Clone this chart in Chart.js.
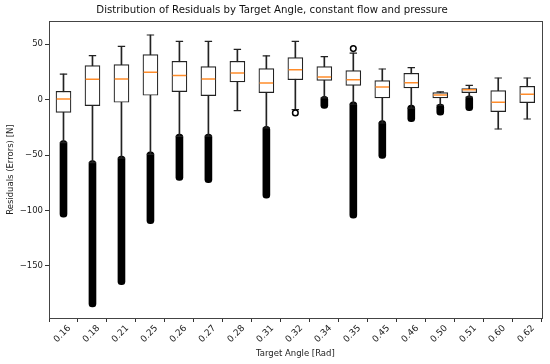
<!DOCTYPE html>
<html>
<head>
<meta charset="utf-8">
<script src="https://cdn.jsdelivr.net/npm/chart.js@4"></script>
<style>
  html, body { margin: 0; padding: 0; background: #fff; }
  #wrap { width: 550px; height: 364px; }
</style>
</head>
<body>
<div id="wrap"><canvas id="boxChart" width="550" height="364"></canvas></div>
<script>
// target angles (categories)
const angles = ["0.16", "0.18", "0.21", "0.25", "0.26", "0.27", "0.28", "0.31", "0.32",
                "0.34", "0.35", "0.45", "0.46", "0.50", "0.51", "0.60", "0.62"];

// box statistics
const whiskerHigh = [23, 39.7, 48, 58.3, 52.6, 52.6, 45.4, 39.4, 52.6, 38.8, 42, 27.6, 28.9, 6.9, 12.9, 19.5, 19.5];
const q3          = [7.5, 30.7, 31.6, 40.6, 34.6, 29.8, 34.6, 28, 37.9, 29.8, 26.2, 17.1, 23.7, 6.3, 9.9, 8.1, 12];
const medians     = [0.5, 18.3, 18.6, 24.6, 21.7, 18.6, 24, 15, 27, 20.4, 18, 11.4, 15.3, 4.2, 9, -2.4, 4.8];
const q1          = [-11.5, -5.4, -2.4, 3.9, 7.2, 3.6, 15.9, 6.3, 18, 17.4, 12.9, 1.5, 10.5, 1.5, 6.3, -10.8, -2.7];
const whiskerLow  = [-38.8, -56.9, -52.7, -49.4, -33.1, -33, -10, -25.6, -9, 1.5, -4.2, -21.1, -7.6, -5.1, 2.3, -26.5, -17.5];

// dense outlier runs (top / bottom of the run), null = none
const outlierTop    = [-37, -55, -51, -47, -31, -31, null, -24, null, 3, -2, -19, -5, -4, 3.5, null, null];
const outlierBottom = [-106, -187, -167, -112, -73, -75, null, -89, null, -8, -107, -53, -20, -14, -10, null, null];
// single isolated outliers
const singleOutliers = [null, null, null, null, null, null, null, null, -12, null, 46, null, null, null, null, null, null];

const yTicks = [-150, -100, -50, 0, 50];

const range = (a, b) => a.map((v, i) => (v === null || b[i] === null) ? null : [b[i], v]);

const frame = {
  id: 'frame',
  afterDraw(chart) {
    const { ctx, chartArea: a } = chart;
    ctx.save();
    ctx.strokeStyle = '#444';
    ctx.lineWidth = 1;
    ctx.strokeRect(Math.round(a.left) + 0.5, Math.round(a.top) + 0.5,
                   Math.round(a.right - a.left), Math.round(a.bottom - a.top));
    ctx.restore();
  }
};

new Chart(document.getElementById('boxChart'), {
  type: 'bar',
  data: {
    labels: angles,
    datasets: [
      {
        label: 'outliers',
        data: range(outlierTop, outlierBottom),
        backgroundColor: '#000',
        barThickness: 7,
        borderRadius: 3.5,
        borderSkipped: false,
        grouped: false,
        order: 5
      },
      {
        label: 'whiskers',
        data: range(whiskerHigh, whiskerLow),
        backgroundColor: '#222',
        barThickness: 1,
        grouped: false,
        order: 4
      },
      {
        label: 'boxes',
        data: range(q3, q1),
        backgroundColor: '#fff',
        borderColor: '#222',
        borderWidth: 1.2,
        borderSkipped: false,
        barThickness: 15,
        grouped: false,
        order: 3
      },
      {
        type: 'line',
        label: 'caps high',
        data: whiskerHigh,
        showLine: false,
        pointStyle: 'line',
        pointRadius: 3.7,
        pointBorderWidth: 1.2,
        pointBorderColor: '#222',
        order: 2
      },
      {
        type: 'line',
        label: 'caps low',
        data: whiskerLow,
        showLine: false,
        pointStyle: 'line',
        pointRadius: 3.7,
        pointBorderWidth: 1.2,
        pointBorderColor: '#222',
        order: 2
      },
      {
        type: 'line',
        label: 'median',
        data: medians,
        showLine: false,
        pointStyle: 'line',
        pointRadius: 6.8,
        pointBorderWidth: 1.5,
        pointBorderColor: '#ff8c2a',
        order: 1
      },
      {
        type: 'line',
        label: 'single outliers',
        data: singleOutliers,
        showLine: false,
        pointStyle: 'circle',
        pointRadius: 2.8,
        pointBorderWidth: 1.5,
        pointBorderColor: '#000',
        pointBackgroundColor: '#fff',
        order: 0
      }
    ]
  },
  options: {
    responsive: false,
    animation: false,
    layout: { padding: { right: 6 } },
    plugins: {
      legend: { display: false },
      tooltip: { enabled: false },
      title: {
        display: true,
        text: 'Distribution of Residuals by Target Angle, constant flow and pressure',
        color: '#111',
        font: { family: 'DejaVu Sans', size: 10.2, weight: 'normal' },
        padding: { top: 4, bottom: 5 }
      }
    },
    scales: {
      x: {
        offset: true,
        grid: { display: true, drawOnChartArea: false, drawTicks: true, tickLength: 4, color: '#333' },
        border: { display: false },
        ticks: {
          color: '#222',
          minRotation: 45,
          maxRotation: 45,
          padding: 1,
          labelOffset: 6,
          font: { family: 'DejaVu Sans', size: 9 }
        },
        title: {
          display: true,
          text: 'Target Angle [Rad]',
          color: '#222',
          font: { family: 'DejaVu Sans', size: 8.5 },
          padding: { top: 0, bottom: 5 }
        },
        afterFit(scale) { scale.height = 46; }
      },
      y: {
        min: -197,
        max: 70.7,
        afterBuildTicks(scale) { scale.ticks = yTicks.map(v => ({ value: v })); },
        grid: { display: true, drawOnChartArea: false, drawTicks: true, tickLength: 4, color: '#333' },
        border: { display: false },
        ticks: {
          color: '#222',
          padding: 2,
          font: { family: 'DejaVu Sans', size: 8.5 },
          callback: v => String(v).replace('-', '\u2212')
        },
        title: {
          display: true,
          text: 'Residuals (Errors) [N]',
          color: '#222',
          font: { family: 'DejaVu Sans', size: 8.5 },
          padding: { top: 6, bottom: 0 }
        },
        afterFit(scale) { scale.width = 49; }
      }
    }
  },
  plugins: [frame]
});
</script>
</body>
</html>
